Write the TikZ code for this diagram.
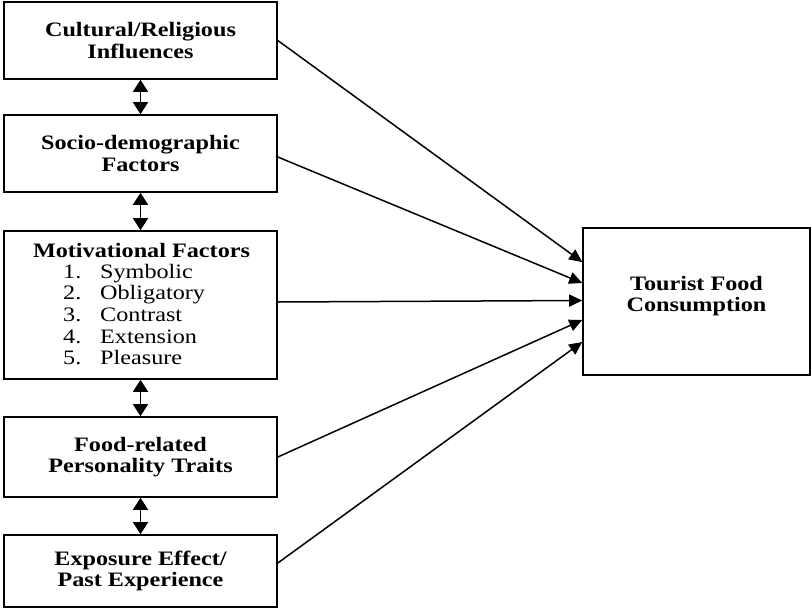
\documentclass[tikz,border=0pt]{standalone}
\usepackage{fontspec}
\setmainfont{Liberation Serif}[FakeStretch=1.18]
\usetikzlibrary{arrows.meta}
\begin{document}
\begin{tikzpicture}[x=1pt,y=-1pt,
  box/.style={draw, line width=1.6pt, inner sep=0pt, align=center,
    font=\fontsize{20.5}{21.5}\selectfont\bfseries},
  leftbox/.style={box, minimum width=273pt},
  txt/.style={inner sep=0pt, font=\fontsize{20.5}{21.5}\selectfont\bfseries, align=center},
  link/.style={line width=1.5pt, -{Triangle[length=13pt,width=12pt]}},
  dlink/.style={line width=1.6pt, {Triangle[length=12pt,width=15pt]}-{Triangle[length=12pt,width=15pt]}}
]
\useasboundingbox[fill=white] (0,0) rectangle (811,610);

\node[leftbox, minimum height=77pt] (b1) at (140.5,40.5) {Cultural/Religious\\Influences};
\node[leftbox, minimum height=77pt] (b2) at (140.5,153.5) {Socio-demographic\\Factors};
\node[leftbox, minimum height=148pt] (b3) at (140.5,305) {};
\node[leftbox, minimum height=80pt] (b4) at (140.5,457) {Food-related\\Personality Traits};
\node[leftbox, minimum height=72pt] (b5) at (140.5,571) {Exposure Effect/\\Past Experience};

\node[txt, anchor=base] (mt) at (141.5,257) {Motivational Factors};
\node[inner sep=0pt, anchor=base west, font=\fontsize{20.5}{21.7}\selectfont] (ml) at (63,278)
  {\begin{tabular}[t]{@{}p{37pt}@{}l@{}}
   1. & Symbolic\\
   2. & Obligatory\\
   3. & Contrast\\
   4. & Extension\\
   5. & Pleasure
   \end{tabular}};

\node[box, minimum width=227pt, minimum height=147pt] (tfc) at (696.5,301.5) {};
\node[txt] (tfct) at (696.5,296) {Tourist Food\\Consumption};

\draw[dlink] (b1.south) -- (b2.north);
\draw[dlink] (b2.south) -- (b3.north);
\draw[dlink] (b3.south) -- (b4.north);
\draw[dlink] (b4.south) -- (b5.north);

\draw[link] (b1.east) -- ([yshift=39.5pt]tfc.west);
\draw[link] ([yshift=-3.5pt]b2.east) -- ([yshift=18.5pt]tfc.west);
\draw[link] ([yshift=3pt]b3.east) -- ([yshift=1pt]tfc.west);
\draw[link] (b4.east) -- ([yshift=-18.5pt]tfc.west);
\draw[link] ([yshift=8pt]b5.east) -- ([yshift=-40.5pt]tfc.west);
\end{tikzpicture}
\end{document}
